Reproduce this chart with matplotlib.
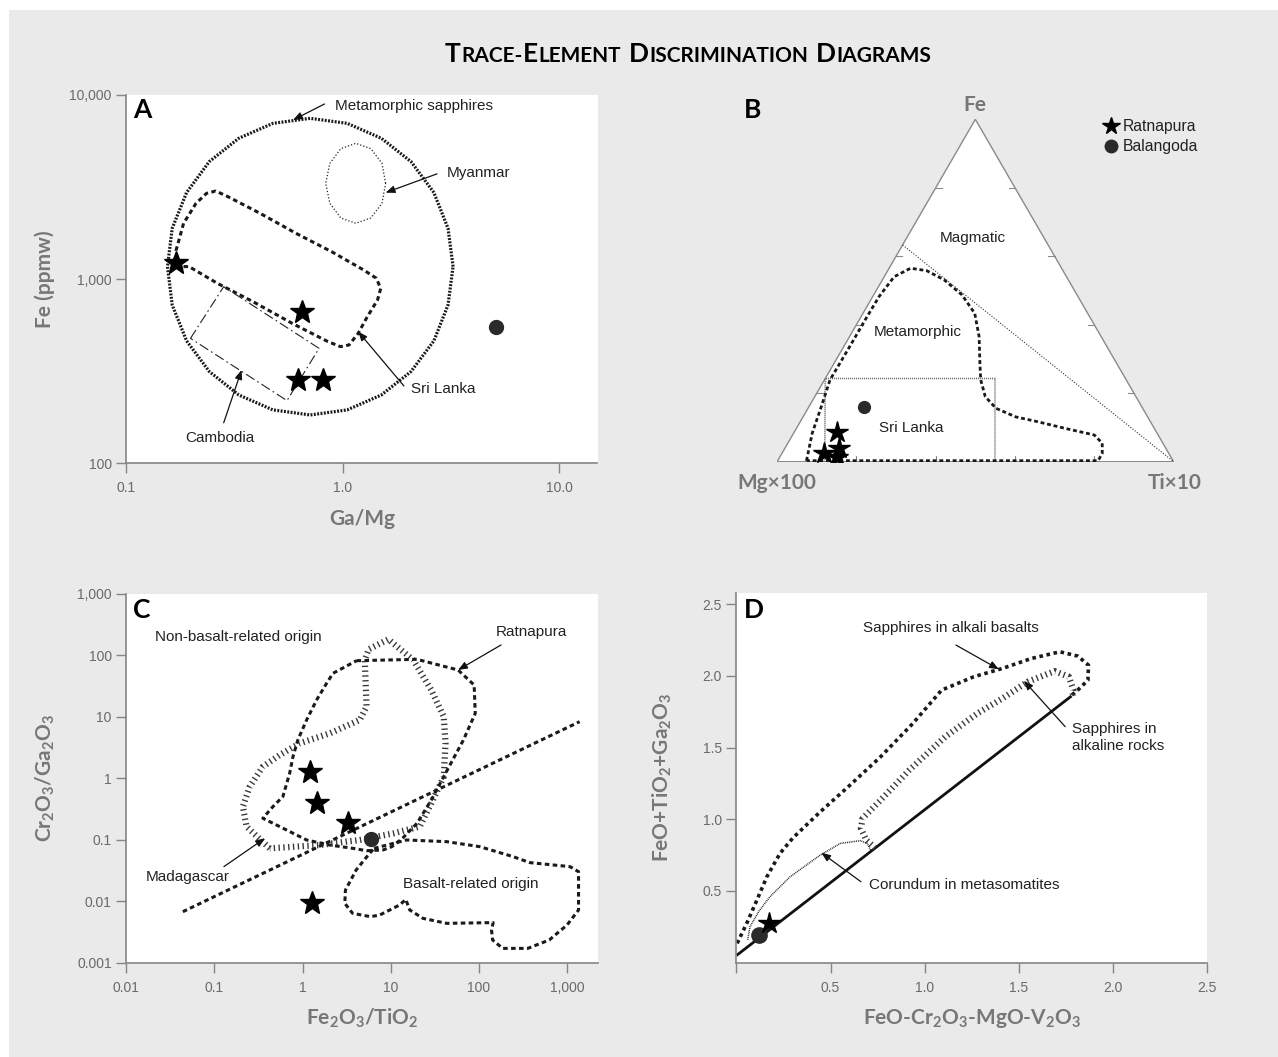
import matplotlib
matplotlib.use('Agg')
import matplotlib.pyplot as plt
from matplotlib.patches import Rectangle
from matplotlib.lines import Line2D
from matplotlib.ticker import NullLocator
import numpy as np

plt.rcParams['font.family'] = ['Liberation Sans', 'DejaVu Sans']
plt.rcParams['mathtext.default'] = 'regular'

# ---------------- Panel A data: Ga/Mg vs Fe (ppmw) ----------------
a_star_gamg = [0.170, 0.652, 0.624, 0.809]
a_star_fe = [1220, 666, 283, 283]
a_circ_gamg = [5.14]
a_circ_fe = [548]
a_meta_gamg = [3.24, 3.07, 2.64, 2.07, 1.51, 1.05, 0.708, 0.476, 0.331, 0.242, 0.190, 0.163,
               0.155, 0.163, 0.190, 0.242, 0.331, 0.476, 0.708, 1.05, 1.51, 2.07, 2.64, 3.07]
a_meta_fe = [1170, 1888, 2955, 4350, 5820, 7015, 7470, 7015, 5820, 4350, 2955, 1888,
             1170, 724, 462, 315, 235, 195, 183, 195, 235, 315, 462, 724]
a_myan_gamg = [1.58, 1.52, 1.35, 1.15, 0.98, 0.873, 0.835, 0.873, 0.98, 1.15, 1.35, 1.52]
a_myan_fe = [3315, 4255, 5110, 5465, 5110, 4255, 3315, 2580, 2150, 2010, 2150, 2580]
a_sri_gamg = [0.173, 0.170, 0.184, 0.210, 0.235, 0.259, 0.295, 0.416, 0.608, 0.889, 1.25, 1.43,
              1.50, 1.45, 1.30, 1.18, 1.07, 0.977, 0.855, 0.585, 0.385, 0.264, 0.195]
a_sri_fe = [1170, 1440, 2010, 2580, 2925, 3010, 2805, 2275, 1775, 1410, 1122, 1012,
            891, 771, 625, 508, 439, 430, 458, 575, 755, 948, 1170]
a_cam_gamg = [0.198, 0.282, 0.778, 0.553]
a_cam_fe = [477, 910, 421, 219]
a_xticks = [0.1, 1, 10]
a_xticklabels = ['0.1', '1.0', '10.0']
a_yticks = [100, 1000, 10000]
a_yticklabels = ['100', '1,000', '10,000']

# ---------------- Panel B data: ternary (Fe, Ti fractions; Mg = rest) ----------------
b_star_fe = [0.088, 0.024, 0.039, 0.015]
b_star_ti = [0.106, 0.107, 0.137, 0.1445]
b_circ_fe = [0.161]
b_circ_ti = [0.139]
b_meta_fe = [0.003, 0.005, 0.083, 0.161, 0.239, 0.336, 0.414, 0.482, 0.540, 0.565, 0.558, 0.531, 0.487,
             0.433, 0.365, 0.287, 0.239, 0.190, 0.156, 0.131, 0.117, 0.097, 0.078, 0.054, 0.024, 0.003]
b_meta_ti = [0.0733, 0.072, 0.047, 0.031, 0.014, 0.015, 0.015, 0.016, 0.025, 0.054, 0.098, 0.156, 0.223,
             0.282, 0.327, 0.368, 0.394, 0.430, 0.474, 0.536, 0.598, 0.679, 0.761, 0.793, 0.808, 0.808]
b_mag_fe = [0.633, 0.0]
b_mag_ti = [0.0, 1.0]
b_sri_fe = [0.0, 0.243, 0.243, 0.0]
b_sri_ti = [0.120, 0.0, 0.428, 0.5495]
b_ticks = [0.2, 0.4, 0.6, 0.8]

# ---------------- Panel C data: Fe2O3/TiO2 vs Cr2O3/Ga2O3 ----------------
c_star_x = [1.20, 1.45, 3.30, 1.28]
c_star_y = [1.28, 0.392, 0.185, 0.00925]
c_circ_x = [5.89]
c_circ_y = [0.102]
c_rat_x = [4.09, 19.8, 58.0, 88.3, 90.8, 66.7, 41.8, 28.8, 19.8, 13.6, 10.3, 8.16, 5.31, 3.72,
           2.03, 1.11, 0.550, 0.354, 0.460, 0.597, 0.713, 0.777, 0.883, 1.11, 1.44, 1.87, 2.21]
c_rat_y = [82.2, 86.5, 58.0, 33.0, 11.4, 4.21, 1.21, 0.444, 0.185, 0.106, 0.0773, 0.0683, 0.0665, 0.0726,
           0.0822, 0.0993, 0.164, 0.224, 0.346, 0.504, 1.21, 2.25, 4.21, 8.91, 18.8, 35.2, 51.2]
c_mad_x = [0.423, 0.231, 0.210, 0.251, 0.354, 0.550, 0.927, 2.03, 4.45, 5.31, 5.07, 5.61, 9.38, 18.0,
           28.8, 39.9, 41.8, 39.9, 28.8, 21.3, 10.6, 4.45, 1.56]
c_mad_y = [0.0726, 0.164, 0.346, 0.733, 1.55, 2.40, 3.72, 5.40, 8.91, 14.7, 84.3, 126, 183, 84.3,
           27.4, 10.1, 3.72, 1.06, 0.392, 0.164, 0.127, 0.0993, 0.0822]
c_bas_x = [6.46, 15.1, 43.0, 102.5, 244, 379, 1077, 1349, 1349, 1000, 627, 358, 186, 143, 139, 145,
           43.0, 23.2, 16.4, 14.8, 12.6, 7.50, 5.89, 3.69, 3.01, 3.06, 4.05, 5.36]
c_bas_y = [0.0726, 0.0993, 0.0933, 0.0773, 0.0532, 0.0425, 0.0366, 0.0303, 0.00721, 0.00411, 0.00234,
           0.00171, 0.00171, 0.00234, 0.0034, 0.00449, 0.00437, 0.00527, 0.00721, 0.0107, 0.00869,
           0.00597, 0.00561, 0.00636, 0.00925, 0.0152, 0.0323, 0.0532]
c_line_x = [0.0438, 1387]
c_line_y = [0.00676, 8.36]
c_xticks = [0.01, 0.1, 1, 10, 100, 1000]
c_xticklabels = ['0.01', '0.1', '1', '10', '100', '1,000']
c_yticks = [0.001, 0.01, 0.1, 1, 10, 100, 1000]
c_yticklabels = ['0.001', '0.01', '0.1', '1', '10', '100', '1,000']

# ---------------- Panel D data ----------------
d_star_x = [0.175]
d_star_y = [0.279]
d_circ_x = [0.122]
d_circ_y = [0.193]
d_line_x = [0.0, 1.78]
d_line_y = [0.05, 1.86]
d_alk_x = [0.004, 0.055, 0.109, 0.162, 0.232, 0.300, 0.446, 0.594, 0.766, 0.937, 1.090, 1.261, 1.413,
           1.566, 1.718, 1.813, 1.870, 1.867, 1.813, 1.775]
d_alk_y = [0.135, 0.275, 0.437, 0.600, 0.763, 0.870, 1.053, 1.227, 1.436, 1.668, 1.901, 1.994, 2.052,
           2.121, 2.168, 2.138, 2.075, 1.970, 1.901, 1.859]
d_rock_x = [0.737, 0.690, 0.661, 0.670, 0.766, 0.918, 1.109, 1.280, 1.413, 1.547, 1.690, 1.766, 1.790, 1.785]
d_rock_y = [0.800, 0.855, 0.937, 1.006, 1.134, 1.343, 1.575, 1.738, 1.843, 1.959, 2.033, 1.994, 1.901, 1.866]
d_cor_x = [0.060, 0.072, 0.120, 0.179, 0.286, 0.446, 0.552, 0.659, 0.695, 0.715]
d_cor_y = [0.160, 0.251, 0.360, 0.461, 0.600, 0.751, 0.832, 0.851, 0.832, 0.780]
d_xticks = [0, 0.5, 1.0, 1.5, 2.0, 2.5]
d_xticklabels = ['', '0.5', '1.0', '1.5', '2.0', '2.5']
d_yticks = [0.5, 1.0, 1.5, 2.0, 2.5]
d_yticklabels = ['0.5', '1.0', '1.5', '2.0', '2.5']

# ---------------- figure ----------------
W, H = 1278, 1057
fig = plt.figure(figsize=(W / 100, H / 100), dpi=100, facecolor='white')
fig.patches.append(Rectangle((9 / W, 0), 1, 1 - 10 / H, transform=fig.transFigure,
                             facecolor='#eaeaea', edgecolor='none', zorder=-5))


def fx(px):
    return px / W


def fy(py):
    return 1 - py / H


def axes_px(l, t, r, b):
    return fig.add_axes([l / W, 1 - b / H, (r - l) / W, (b - t) / H])


SPINE = '#858585'
TICKLAB = '#6a6a6a'
LABCOL = '#777777'
BOLD = dict(family=['Lato', 'DejaVu Sans'], weight='bold')
NOTE = dict(fontsize=11, color='#222222', family=['Liberation Sans', 'DejaVu Sans'])
ARROW = dict(arrowstyle='-|>,head_length=0.55,head_width=0.22', lw=0.9, color='#111111',
             shrinkA=0, shrinkB=0)

DOT_THICK = dict(color='#1a1a1a', lw=2.3, linestyle=(0, (0.6, 0.45)))
DASH = dict(color='#1a1a1a', lw=2.2, linestyle=(0, (1.5, 1.1)))
TICKED = dict(color='#3a3a3a', lw=4.5, linestyle=(0, (0.22, 0.55)))
THIN_DOT = dict(color='#222222', lw=0.9, linestyle=(0, (1, 1.6)))
DASHDOT = dict(color='#222222', lw=0.8, linestyle=(0, (9, 3, 1.5, 3)))
STAR = dict(marker='*', ls='none', color='black', mec='black')
CIRC = dict(marker='o', ls='none', color='#2a2a2a', mec='#2a2a2a')


def style(ax):
    ax.set_facecolor('white')
    for s in ['top', 'right']:
        ax.spines[s].set_visible(False)
    for s in ['left', 'bottom']:
        ax.spines[s].set_color(SPINE)
        ax.spines[s].set_linewidth(1.2)
    ax.tick_params(which='major', direction='out', length=7, width=1.0, color=SPINE,
                   labelcolor=TICKLAB, labelsize=10)
    ax.tick_params(axis='x', pad=6)
    ax.tick_params(axis='y', pad=3.5)
    ax.xaxis.set_minor_locator(NullLocator())
    ax.yaxis.set_minor_locator(NullLocator())


def closed(v):
    return list(v) + [v[0]]


def note(ax, text, pos, start=None, target=None, **kw):
    ax.text(pos[0], pos[1], text, ha='left', va='center', **NOTE, **kw)
    if start is not None:
        ax.annotate('', xy=target, xytext=start, arrowprops=ARROW)


# ---------------- Panel A ----------------
axA = axes_px(126.3, 95, 597.5, 463.3)
axA.set_xscale('log')
axA.set_yscale('log')
axA.set_xlim(0.1, 15.07)
axA.set_ylim(100, 10000)
axA.set_xticks(a_xticks)
axA.set_xticklabels(a_xticklabels)
axA.set_yticks(a_yticks)
axA.set_yticklabels(a_yticklabels)
style(axA)
axA.plot(closed(a_meta_gamg), closed(a_meta_fe), **DOT_THICK)
axA.plot(closed(a_myan_gamg), closed(a_myan_fe), **THIN_DOT)
axA.plot(closed(a_sri_gamg), closed(a_sri_fe), **DASH)
axA.plot(closed(a_cam_gamg), closed(a_cam_fe), **DASHDOT)
axA.plot(a_star_gamg, a_star_fe, ms=18, **STAR)
axA.plot(a_circ_gamg, a_circ_fe, ms=10, **CIRC)
note(axA, 'Metamorphic sapphires', (0.922, 8715), (0.824, 8935), (0.590, 7315))
note(axA, 'Myanmar', (3.03, 3787), (2.73, 3730), (1.58, 2950))
note(axA, 'Sri Lanka', (2.07, 252), (1.92, 263), (1.18, 519))
note(axA, 'Cambodia', (0.187, 138), (0.282, 166), (0.341, 321))

# ---------------- Panel C ----------------
axC = axes_px(126.3, 594, 597.5, 962.7)
axC.set_xscale('log')
axC.set_yscale('log')
axC.set_xlim(0.01, 2213)
axC.set_ylim(0.001, 1000)
axC.set_xticks(c_xticks)
axC.set_xticklabels(c_xticklabels)
axC.set_yticks(c_yticks)
axC.set_yticklabels(c_yticklabels)
style(axC)
axC.plot(closed(c_mad_x), closed(c_mad_y), **TICKED)
axC.plot(closed(c_rat_x), closed(c_rat_y), **DASH)
axC.plot(closed(c_bas_x), closed(c_bas_y), **DASH)
axC.plot(c_line_x, c_line_y, **DASH)
axC.plot(c_star_x, c_star_y, ms=18, **STAR)
axC.plot(c_circ_x, c_circ_y, ms=10, **CIRC)
note(axC, 'Non-basalt-related origin', (0.0213, 202))
note(axC, 'Ratnapura', (157, 244), (178, 148), (58.0, 58.0))
note(axC, 'Madagascar', (0.0167, 0.0245), (0.128, 0.0366), (0.374, 0.106))
note(axC, 'Basalt-related origin', (13.6, 0.0188))

# ---------------- Panel D ----------------
axD = axes_px(736.4, 592.7, 1207.1, 962.7)
axD.set_xlim(0, 2.5)
axD.set_ylim(0, 2.58)
axD.set_xticks(d_xticks)
axD.set_xticklabels(d_xticklabels)
axD.set_yticks(d_yticks)
axD.set_yticklabels(d_yticklabels)
style(axD)
axD.plot(d_line_x, d_line_y, color='#111111', lw=2.0, solid_capstyle='butt')
axD.plot(d_alk_x, d_alk_y, color='#1a1a1a', lw=2.6, linestyle=(0, (1.0, 1.0)))
axD.plot(d_rock_x, d_rock_y, **TICKED)
axD.plot(d_cor_x, d_cor_y, color='#222222', lw=1.1, linestyle=(0, (0.6, 0.6)))
axD.plot(d_circ_x, d_circ_y, ms=11, **CIRC)
axD.plot(d_star_x, d_star_y, ms=16, **STAR)
note(axD, 'Sapphires in alkali basalts', (0.670, 2.336), (1.166, 2.215), (1.394, 2.046))
axD.text(1.781, 1.5725, 'Sapphires in\nalkaline rocks', ha='left', va='center', linespacing=1.25, **NOTE)
axD.annotate('', xy=(1.527, 1.966), xytext=(1.746, 1.646), arrowprops=ARROW)
note(axD, 'Corundum in metasomatites', (0.703, 0.542), (0.661, 0.565), (0.451, 0.767))

# ---------------- Panel B (ternary) ----------------
axB = axes_px(777.1, 119.3, 1173.6, 461.7)
axB.set_xlim(0, 1)
axB.set_ylim(0, 1)
axB.axis('off')


def tern(fe, ti):
    fe = np.asarray(fe, float)
    ti = np.asarray(ti, float)
    return ti + fe / 2, fe


axB.fill([0, 1, 0.5], [0, 0, 1], facecolor='white', edgecolor='#8a8a8a', lw=1.0, zorder=0)
for t in b_ticks:
    axB.plot([t, t], [0, 0.018], color='#8a8a8a', lw=0.8)
    axB.plot([t / 2, t / 2 + 0.016], [t, t], color='#8a8a8a', lw=0.8)
    axB.plot([1 - t / 2, 1 - t / 2 - 0.016], [t, t], color='#8a8a8a', lw=0.8)
x, y = tern(b_mag_fe, b_mag_ti)
axB.plot(x, y, color='#333333', lw=0.8, linestyle=(0, (1, 1.5)))
x, y = tern(b_sri_fe, b_sri_ti)
axB.plot(x, y, color='#666666', lw=1.2, linestyle=(0, (0.6, 0.6)))
x, y = tern(closed(b_meta_fe), closed(b_meta_ti))
axB.plot(x, y, color='#1a1a1a', lw=2.0, linestyle=(0, (1.4, 1.0)))
x, y = tern(b_circ_fe, b_circ_ti)
axB.plot(x, y, ms=8.5, **CIRC)
x, y = tern(b_star_fe, b_star_ti)
axB.plot(x, y, ms=16, **STAR)
axB.text(0.4937, 0.6543, 'Magmatic', ha='center', va='center', **NOTE)
axB.text(0.3559, 0.3797, 'Metamorphic', ha='center', va='center', **NOTE)
axB.text(0.3378, 0.0993, 'Sri Lanka', ha='center', va='center', **NOTE)

handles = [Line2D([], [], marker='*', ls='none', ms=13, color='black', label='Ratnapura'),
           Line2D([], [], marker='o', ls='none', ms=9, color='#2a2a2a', label='Balangoda')]
fig.legend(handles=handles, loc='upper left', bbox_to_anchor=(fx(1103), fy(119)), frameon=False,
           prop={'family': 'Liberation Sans', 'size': 11.3}, handletextpad=0.25, labelspacing=0.32,
           borderaxespad=0, borderpad=0, handlelength=1.0, labelcolor='#222222')

# ---------------- labels ----------------
fig.text(fx(974.6), fy(105), 'Fe', ha='center', va='center', fontsize=15, color=LABCOL, **BOLD)
fig.text(fx(777.1), fy(482.7), 'Mg×100', ha='center', va='center', fontsize=15, color=LABCOL, **BOLD)
fig.text(fx(1174.6), fy(482.7), 'Ti×10', ha='center', va='center', fontsize=15, color=LABCOL, **BOLD)

fig.text(fx(45), fy(279), 'Fe (ppmw)', rotation=90, ha='center', va='center', fontsize=15, color=LABCOL, **BOLD)
fig.text(fx(362), fy(519), 'Ga/Mg', ha='center', va='center', fontsize=15, color=LABCOL, **BOLD)
fig.text(fx(45), fy(778), 'Cr$_2$O$_3$/Ga$_2$O$_3$', rotation=90, ha='center', va='center', fontsize=15,
         color=LABCOL, **BOLD)
fig.text(fx(362), fy(1018), 'Fe$_2$O$_3$/TiO$_2$', ha='center', va='center', fontsize=15, color=LABCOL, **BOLD)
fig.text(fx(662), fy(777), 'FeO+TiO$_2$+Ga$_2$O$_3$', rotation=90, ha='center', va='center', fontsize=15,
         color=LABCOL, **BOLD)
fig.text(fx(972), fy(1018), 'FeO-Cr$_2$O$_3$-MgO-V$_2$O$_3$', ha='center', va='center', fontsize=15,
         color=LABCOL, **BOLD)

for letter, lx, ly in [('A', 133, 118.3), ('B', 743.6, 117.7), ('C', 133.2, 618.3), ('D', 743.6, 617.7)]:
    fig.text(fx(lx), fy(ly), letter, ha='left', va='baseline', fontsize=19, color='black', **BOLD)

# ---------------- title in small caps ----------------
title_parts = [('T', 'L'), ('RACE-', 's'), ('E', 'L'), ('LEMENT', 's'), (' ', 'g'), ('D', 'L'),
               ('ISCRIMINATION', 's'), (' ', 'g'), ('D', 'L'), ('IAGRAMS', 's')]
renderer = fig.canvas.get_renderer()
pieces = []
total = 0.0
for s, kind in title_parts:
    if kind == 'g':
        pieces.append((None, 7.0))
        total += 7.0
        continue
    size = 19 if kind == 'L' else 15
    t = fig.text(0, fy(62.3), s, ha='left', va='baseline', fontsize=size, color='black', **BOLD)
    w = t.get_window_extent(renderer).width + 0.5
    pieces.append((t, w))
    total += w
xcur = 688 - total / 2
for t, w in pieces:
    if t is not None:
        t.set_x(fx(xcur))
    xcur += w

fig.savefig('out.png', dpi=100, facecolor=fig.get_facecolor())
